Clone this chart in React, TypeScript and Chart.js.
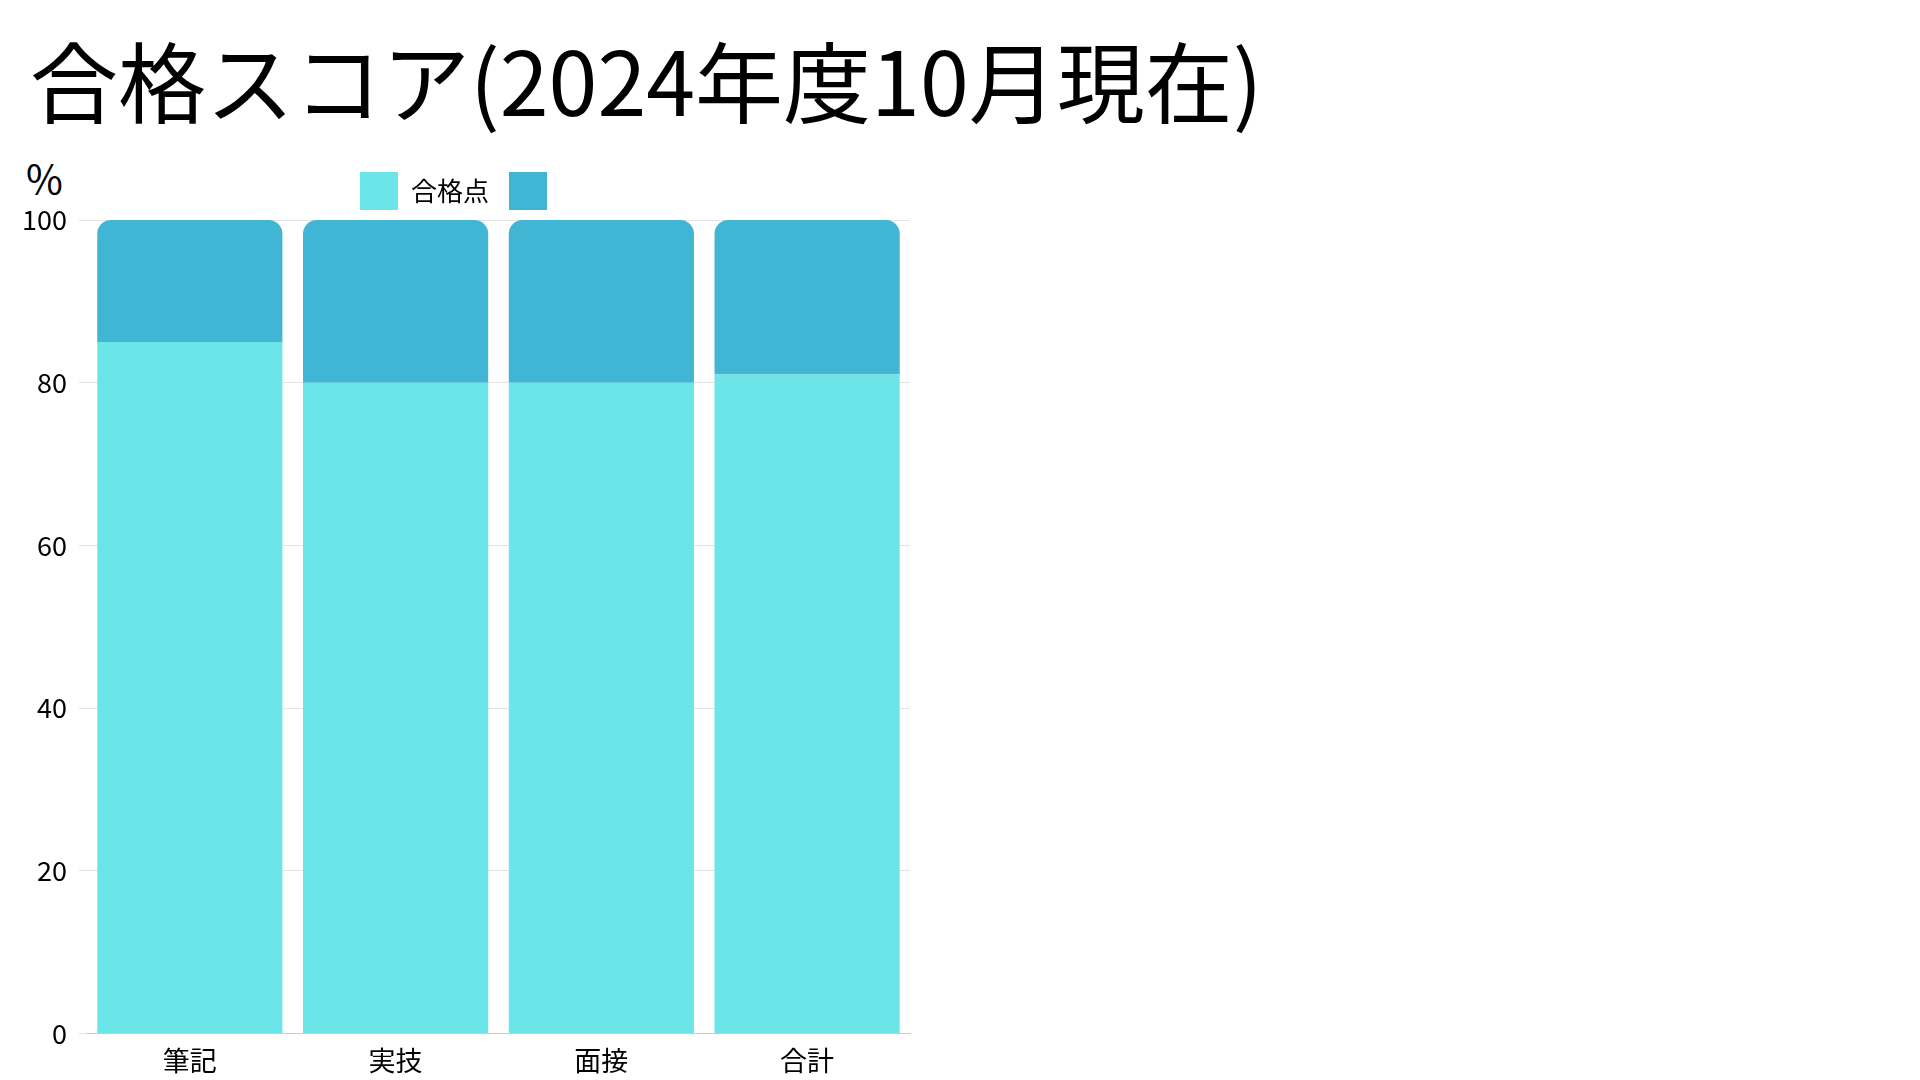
import React, { useEffect, useRef } from 'react';
import Chart from 'chart.js/auto';

const categories = ['筆記', '実技', '面接', '合計'];
const passScores = [85, 80, 80, 81];
const restScores = [15, 20, 20, 19];
const yTicks = [0, 20, 40, 60, 80, 100];

const FONT = '"Noto Sans CJK JP", "Noto Sans", sans-serif';

const App: React.FC = () => {
  const chartRef = useRef<HTMLCanvasElement>(null);

  useEffect(() => {
    const chart = new Chart(chartRef.current!, {
      type: 'bar',
      data: {
        labels: categories,
        datasets: [
          { label: '合格点', data: passScores, backgroundColor: '#6CE5E8', borderRadius: 0 },
          {
            label: '',
            data: restScores,
            backgroundColor: '#41B5D4',
            borderRadius: { topLeft: 14, topRight: 14, bottomLeft: 0, bottomRight: 0 },
            borderSkipped: false,
          },
        ],
      },
      options: {
        animation: false,
        responsive: true,
        maintainAspectRatio: false,
        layout: { padding: { left: 10, right: 10 } },
        datasets: { bar: { barPercentage: 0.9, categoryPercentage: 1 } },
        plugins: {
          legend: {
            labels: { font: { family: FONT, size: 26 }, color: '#000', boxWidth: 38, boxHeight: 38, padding: 20 },
          },
          tooltip: { enabled: false },
        },
        scales: {
          x: {
            stacked: true,
            grid: { display: false },
            border: { color: '#cccccc' },
            ticks: { font: { family: FONT, size: 27 }, color: '#000' },
          },
          y: {
            stacked: true,
            min: 0,
            max: 100,
            afterBuildTicks: (axis: any) => { axis.ticks = yTicks.map((v) => ({ value: v })); },
            grid: { color: '#e4e4e4' },
            border: { display: false },
            ticks: { font: { family: FONT, size: 27 }, color: '#000', padding: 12 },
          },
        },
      },
    });
    return () => chart.destroy();
  }, []);

  return (
    <div style={{ position: 'fixed', inset: 0, width: 1920, height: 1080, background: '#fff', fontFamily: FONT }}>
      <div style={{ position: 'absolute', left: 30, top: 18, fontSize: 88, lineHeight: '120px', color: '#000' }}>
        合格スコア(2024年度10月現在)
      </div>
      <div style={{ position: 'absolute', left: 26, top: 148, fontSize: 40, color: '#000' }}>%</div>
      <div style={{ position: 'absolute', left: 0, top: 152, width: 920, height: 928 }}>
        <canvas ref={chartRef} />
      </div>
    </div>
  );
};

export default App;
